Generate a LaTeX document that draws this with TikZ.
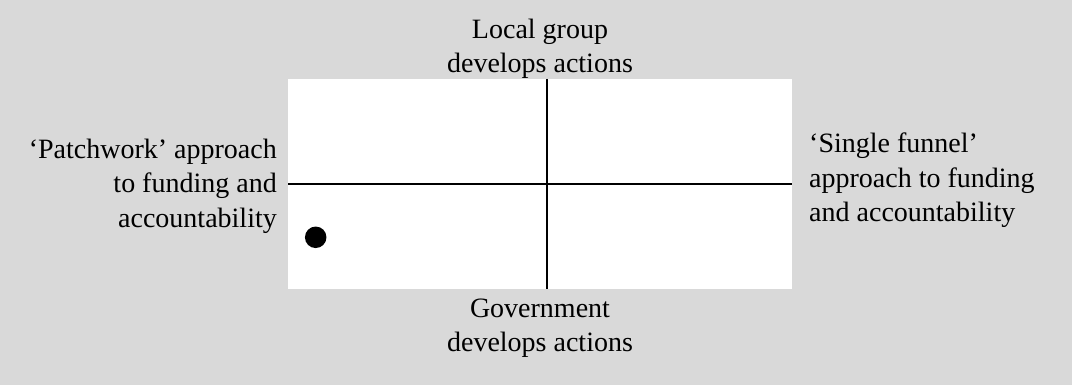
\documentclass[tikz,border=0pt]{standalone}
\usepackage{fontspec}
\setmainfont{Liberation Serif}
\definecolor{panelgray}{HTML}{D9D9D9}
\begin{document}
\begin{tikzpicture}[x=1pt,y=-1pt,
  axis/.style={line width=2pt, black},
  lbl/.style={inner sep=0pt, font=\fontsize{28}{34.5}\selectfont},
  field/.style={fill=white, draw=none, inner sep=0pt, anchor=north west},
  marker/.style={circle, fill=black, inner sep=0pt, minimum size=21.5pt}
]
% backdrop
\fill[panelgray] (0,0) rectangle (1072,385);
\useasboundingbox (0,0) rectangle (1072,385);

% quadrant field
\node (field) [field, minimum width=504pt, minimum height=210pt] at (288,79) {};
\coordinate (vtop) at (547,79);
\coordinate (vbot) at (547,289);
\draw[axis] (field.west) -- (field.east);
\draw[axis] (vtop) -- (vbot);

% position marker
\node (dot) [marker] at (315.7,237.3) {};

% axis end labels (anchored on the baseline of their last line)
\node (local) [lbl, align=center, anchor=base] at (540,72.7) {Local group\\develops actions};
\node (gov) [lbl, align=center, anchor=base] at (540,351.7) {Government\\develops actions};
\node (patch) [lbl, align=right, anchor=base east] at (277,227) {‘Patchwork’ approach\\to funding and\\accountability};
\node (single) [lbl, align=left, anchor=base west] at (809,222) {‘Single funnel’\\approach to funding\\and accountability};
\end{tikzpicture}
\end{document}
